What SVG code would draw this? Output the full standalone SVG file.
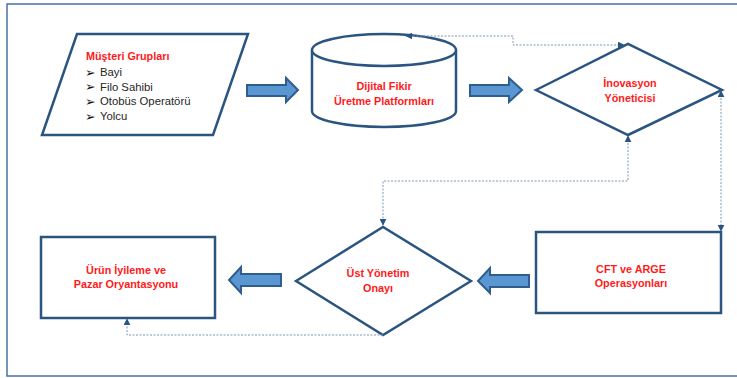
<svg xmlns="http://www.w3.org/2000/svg" width="737" height="378" viewBox="0 0 737 378">
  <style>
    .frame { fill: none; stroke: #4a72a4; stroke-width: 1.5; }
    .shape { fill: #ffffff; stroke: #2b5580; stroke-width: 2.5; stroke-linejoin: miter; }
    .block { fill: #5a96d2; stroke: #2f5d8c; stroke-width: 2; stroke-linejoin: miter; }
    .link { fill: none; stroke: #7f97b7; stroke-width: 1; stroke-dasharray: 2 1.5; }
    .title { font-family: "Liberation Sans", Arial, sans-serif; font-size: 10.8px; font-weight: bold; fill: #ff1a1a; text-anchor: middle; }
    .item { font-family: "Liberation Sans", Arial, sans-serif; font-size: 11.3px; fill: #262626; }
    .bullet { font-family: "DejaVu Sans", sans-serif; font-size: 12.5px; fill: #111111; }
    .red { font-family: "Liberation Sans", Arial, sans-serif; font-size: 10.8px; font-weight: bold; fill: #ff1a1a; }
  </style>
  <defs>
    <marker id="tip" viewBox="0 0 10 10" refX="9" refY="5" markerWidth="7" markerHeight="7" markerUnits="userSpaceOnUse" orient="auto-start-reverse">
      <path d="M0,0 L10,5 L0,10 z" fill="#2b5580"/>
    </marker>
  </defs>

  <!-- outer frame -->
  <rect class="frame" x="7" y="4" width="740" height="372"/>

  <!-- Customer groups (input) -->
  <g id="musteri-gruplari">
    <polygon class="shape" points="77,34 248,34 213,135 42,135"/>
    <text class="red" x="86" y="60">Müşteri Grupları</text>
    <text class="bullet" x="85" y="76.5">➢</text>
    <text class="item" x="100" y="76">Bayi</text>
    <text class="bullet" x="85" y="91">➢</text>
    <text class="item" x="100" y="90.5">Filo Sahibi</text>
    <text class="bullet" x="85" y="105.5">➢</text>
    <text class="item" x="100" y="105">Otobüs Operatörü</text>
    <text class="bullet" x="85" y="120.5">➢</text>
    <text class="item" x="100" y="120">Yolcu</text>
  </g>

  <!-- Idea platform (database) -->
  <g id="dijital-fikir">
    <path class="shape" d="M312,50 V111 A72,16 0 0 0 456,111 V50"/>
    <ellipse class="shape" cx="384" cy="50" rx="72" ry="16"/>
    <text class="title" x="384" y="89.5">Dijital Fikir</text>
    <text class="title" x="384" y="105">Üretme Platformları</text>
  </g>

  <!-- Innovation manager (decision) -->
  <g id="inovasyon-yoneticisi">
    <polygon class="shape" points="536,90 628,44 722,90 628,135"/>
    <text class="title" x="630" y="86.5">İnovasyon</text>
    <text class="title" x="630" y="102">Yöneticisi</text>
  </g>

  <!-- CFT and R&D operations -->
  <g id="cft-arge">
    <rect class="shape" x="536" y="232" width="185" height="81"/>
    <text class="title" x="631" y="273">CFT ve ARGE</text>
    <text class="title" x="631" y="287">Operasyonları</text>
  </g>

  <!-- Top management approval (decision) -->
  <g id="ust-yonetim">
    <polygon class="shape" points="296,281 383,227 471,281 383,335"/>
    <text class="title" x="378" y="277">Üst Yönetim</text>
    <text class="title" x="378" y="292">Onayı</text>
  </g>

  <!-- Product improvement -->
  <g id="urun-iyileme">
    <rect class="shape" x="41" y="237" width="174" height="81"/>
    <text class="title" x="126" y="274">Ürün İyileme ve</text>
    <text class="title" x="126" y="288">Pazar Oryantasyonu</text>
  </g>

  <!-- flow arrows and feedback links -->
  <g id="connectors">
    <polygon class="block" points="247,85 286,85 286,78 298,90 286,102 286,96 247,96"/>
    <polygon class="block" points="470,85 509,85 509,78 522,90 509,102 509,96 470,96"/>
    <polygon class="block" points="529,275 490,275 490,268 478,281 490,293 490,287 529,287"/>
    <polygon class="block" points="281,274 241,274 241,267 229,280 241,293 241,286 281,286"/>

    <path class="link" d="M406,36 H513 V45 H624" marker-start="url(#tip)" marker-end="url(#tip)"/>
    <path class="link" d="M721,91 V231" marker-start="url(#tip)" marker-end="url(#tip)"/>
    <path class="link" d="M628,136 V181 H383 V225" marker-start="url(#tip)" marker-end="url(#tip)"/>
    <path class="link" d="M383,335 H127 V319" marker-end="url(#tip)"/>
  </g>
</svg>
